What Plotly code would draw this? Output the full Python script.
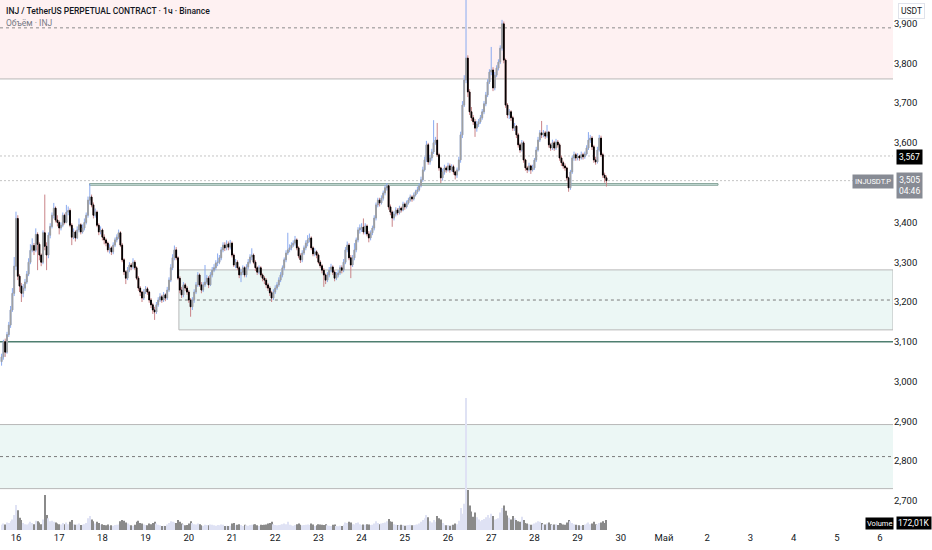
import pandas as pd
import plotly.graph_objects as go

# INJUSDT.P perpetual, 1h candles from 2025-04-15 16:00 to 2025-04-29 16:00
first_open = 3.050

closes = [
    3.062, 3.100, 3.074, 3.118, 3.142, 3.180, 3.222, 3.290, 3.410,
    3.265, 3.240, 3.222, 3.235, 3.250, 3.270, 3.300, 3.330, 3.342, 3.330, 3.370, 3.345, 3.318, 3.300, 3.374,
    3.340,
    3.318, 3.368, 3.390, 3.418, 3.436, 3.406, 3.400, 3.386, 3.393, 3.418, 3.400, 3.426, 3.430, 3.393, 3.363,
    3.376, 3.361, 3.381, 3.394, 3.376, 3.386, 3.400, 3.418,
    3.456, 3.464,
    3.444, 3.418, 3.426, 3.393, 3.376, 3.381, 3.363, 3.356, 3.348, 3.331, 3.336, 3.326, 3.343, 3.356, 3.363, 3.374,
    3.343, 3.306, 3.276, 3.260, 3.280, 3.293, 3.288, 3.300, 3.286, 3.260, 3.235, 3.225, 3.210, 3.225, 3.233, 3.225, 3.205, 3.193, 3.180, 3.175,
    3.193, 3.205, 3.213, 3.205, 3.218, 3.210, 3.230, 3.255, 3.286, 3.311, 3.331, 3.311, 3.260, 3.230, 3.218, 3.243, 3.235, 3.225, 3.205, 3.188,
    3.205, 3.225, 3.243, 3.268, 3.243, 3.230, 3.243, 3.250, 3.260, 3.243, 3.268, 3.280, 3.286, 3.298, 3.300, 3.311, 3.331, 3.343, 3.336, 3.346,
    3.338, 3.348, 3.318, 3.293, 3.300, 3.286, 3.268, 3.275, 3.286, 3.268, 3.288, 3.300, 3.313, 3.318, 3.300, 3.286, 3.275, 3.286, 3.268, 3.260,
    3.255, 3.243, 3.235, 3.223, 3.210, 3.225, 3.235, 3.243, 3.255, 3.268, 3.286, 3.306, 3.323, 3.331, 3.336, 3.343, 3.348, 3.356, 3.336, 3.316,
    3.306, 3.323, 3.336, 3.348, 3.356, 3.361, 3.336, 3.321, 3.326, 3.318, 3.300, 3.291, 3.280, 3.268, 3.255, 3.268, 3.280, 3.288, 3.275, 3.260,
    3.268, 3.273, 3.286, 3.280, 3.300, 3.331, 3.343, 3.311, 3.293, 3.311, 3.331, 3.356, 3.381, 3.386, 3.388, 3.376, 3.391, 3.371, 3.361, 3.374,
    3.386, 3.411, 3.444, 3.456, 3.449, 3.461, 3.474, 3.487, 3.492, 3.439, 3.426, 3.411, 3.421, 3.431, 3.424, 3.436, 3.431, 3.446, 3.439, 3.449,
    3.456, 3.464, 3.459, 3.469, 3.477, 3.482, 3.492, 3.507, 3.532, 3.557, 3.595, 3.552, 3.562, 3.577, 3.600, 3.607, 3.570, 3.537, 3.512, 3.527,
    3.537, 3.532, 3.542, 3.532, 3.540, 3.527, 3.519, 3.532, 3.557, 3.620, 3.695, 3.758, 3.813, 3.728, 3.678, 3.663, 3.653, 3.637, 3.647, 3.653,
    3.663, 3.678, 3.698, 3.720, 3.753, 3.778, 3.783, 3.738, 3.770, 3.788, 3.803, 3.838, 3.899, 3.808, 3.695, 3.670, 3.678, 3.663, 3.637, 3.642,
    3.620, 3.595, 3.582, 3.600, 3.557, 3.537, 3.532, 3.542, 3.532, 3.537, 3.557, 3.582, 3.607, 3.625, 3.620, 3.625, 3.617, 3.627, 3.595, 3.587,
    3.600, 3.587, 3.602, 3.595, 3.562, 3.550, 3.542, 3.537, 3.512, 3.487, 3.527, 3.562, 3.570, 3.562, 3.567, 3.562, 3.570, 3.565, 3.572, 3.587,
    3.607, 3.612, 3.590, 3.557, 3.552, 3.582, 3.612, 3.570, 3.519, 3.512, 3.505,
]

highs = [
    3.070, 3.105, 3.108, 3.125, 3.150, 3.190, 3.235, 3.313, 3.427,
    3.418, 3.270, 3.248, 3.245, 3.258, 3.278, 3.310, 3.345, 3.360, 3.348, 3.385, 3.375, 3.350, 3.322, 3.380,
    3.470,
    3.350, 3.375, 3.398, 3.425, 3.449, 3.440, 3.418, 3.405, 3.400, 3.425, 3.422, 3.444, 3.440, 3.435, 3.398,
    3.385, 3.380, 3.390, 3.410, 3.398, 3.395, 3.410, 3.425,
    3.465, 3.497,
    3.470, 3.450, 3.435, 3.430, 3.398, 3.390, 3.385, 3.370, 3.360, 3.352, 3.345, 3.340, 3.350, 3.362, 3.370, 3.382,
    3.378, 3.348, 3.310, 3.280, 3.288, 3.300, 3.298, 3.310, 3.305, 3.290, 3.265, 3.240, 3.228, 3.232, 3.240, 3.238, 3.228, 3.210, 3.198, 3.188,
    3.200, 3.212, 3.222, 3.218, 3.225, 3.222, 3.238, 3.262, 3.295, 3.320, 3.342, 3.338, 3.315, 3.265, 3.238, 3.250, 3.248, 3.240, 3.230, 3.210,
    3.212, 3.232, 3.250, 3.275, 3.272, 3.250, 3.250, 3.293, 3.268, 3.265, 3.275, 3.288, 3.295, 3.305, 3.322, 3.318, 3.338, 3.350, 3.350, 3.355,
    3.352, 3.356, 3.352, 3.322, 3.308, 3.305, 3.290, 3.282, 3.292, 3.290, 3.295, 3.308, 3.320, 3.335, 3.322, 3.305, 3.290, 3.292, 3.290, 3.272,
    3.265, 3.260, 3.248, 3.240, 3.228, 3.232, 3.242, 3.250, 3.262, 3.275, 3.292, 3.312, 3.330, 3.374, 3.345, 3.350, 3.355, 3.366, 3.360, 3.340,
    3.322, 3.330, 3.342, 3.355, 3.368, 3.372, 3.365, 3.340, 3.335, 3.330, 3.322, 3.305, 3.295, 3.285, 3.272, 3.275, 3.288, 3.296, 3.292, 3.280,
    3.275, 3.280, 3.292, 3.292, 3.308, 3.338, 3.352, 3.348, 3.318, 3.318, 3.348, 3.362, 3.388, 3.395, 3.398, 3.410, 3.398, 3.395, 3.378, 3.380,
    3.392, 3.418, 3.450, 3.462, 3.462, 3.468, 3.480, 3.494, 3.499, 3.495, 3.445, 3.430, 3.428, 3.438, 3.436, 3.442, 3.440, 3.452, 3.450, 3.455,
    3.462, 3.470, 3.468, 3.475, 3.482, 3.490, 3.498, 3.515, 3.540, 3.565, 3.605, 3.600, 3.570, 3.585, 3.657, 3.615, 3.650, 3.575, 3.540, 3.535,
    3.545, 3.542, 3.550, 3.548, 3.546, 3.545, 3.530, 3.538, 3.565, 3.628, 3.705, 3.770, 3.990, 3.820, 3.735, 3.690, 3.670, 3.660, 3.655, 3.660,
    3.670, 3.685, 3.705, 3.728, 3.760, 3.785, 3.841, 3.790, 3.778, 3.795, 3.810, 3.845, 3.909, 3.905, 3.812, 3.700, 3.685, 3.682, 3.668, 3.650,
    3.645, 3.625, 3.600, 3.607, 3.605, 3.560, 3.542, 3.550, 3.545, 3.545, 3.562, 3.590, 3.615, 3.632, 3.655, 3.632, 3.630, 3.645, 3.630, 3.600,
    3.608, 3.605, 3.610, 3.607, 3.600, 3.568, 3.555, 3.548, 3.540, 3.515, 3.532, 3.568, 3.578, 3.575, 3.574, 3.570, 3.578, 3.575, 3.578, 3.594,
    3.627, 3.620, 3.617, 3.595, 3.565, 3.590, 3.620, 3.618, 3.575, 3.525, 3.518,
]

lows = [
    3.040, 3.055, 3.062, 3.070, 3.112, 3.135, 3.175, 3.215, 3.280,
    3.255, 3.225, 3.200, 3.212, 3.228, 3.245, 3.265, 3.295, 3.325, 3.318, 3.325, 3.280, 3.305, 3.290, 3.295,
    3.330,
    3.280, 3.310, 3.360, 3.385, 3.410, 3.400, 3.390, 3.370, 3.380, 3.388, 3.395, 3.398, 3.418, 3.388, 3.343,
    3.358, 3.352, 3.358, 3.375, 3.370, 3.372, 3.380, 3.395,
    3.412, 3.445,
    3.438, 3.410, 3.412, 3.388, 3.368, 3.370, 3.355, 3.345, 3.340, 3.325, 3.322, 3.318, 3.320, 3.338, 3.350, 3.358,
    3.338, 3.300, 3.268, 3.245, 3.255, 3.275, 3.280, 3.282, 3.280, 3.255, 3.228, 3.215, 3.200, 3.205, 3.220, 3.218, 3.198, 3.185, 3.170, 3.155,
    3.170, 3.188, 3.200, 3.198, 3.200, 3.202, 3.205, 3.225, 3.250, 3.280, 3.305, 3.305, 3.255, 3.222, 3.210, 3.212, 3.228, 3.218, 3.198, 3.163,
    3.180, 3.198, 3.220, 3.238, 3.238, 3.222, 3.225, 3.238, 3.245, 3.235, 3.240, 3.262, 3.275, 3.280, 3.290, 3.295, 3.305, 3.325, 3.328, 3.330,
    3.330, 3.332, 3.312, 3.288, 3.285, 3.280, 3.260, 3.250, 3.268, 3.262, 3.262, 3.282, 3.295, 3.305, 3.295, 3.278, 3.268, 3.270, 3.262, 3.252,
    3.245, 3.235, 3.228, 3.215, 3.200, 3.205, 3.220, 3.230, 3.238, 3.250, 3.262, 3.280, 3.300, 3.318, 3.325, 3.330, 3.338, 3.342, 3.330, 3.310,
    3.298, 3.300, 3.318, 3.330, 3.340, 3.350, 3.330, 3.315, 3.315, 3.310, 3.295, 3.285, 3.272, 3.238, 3.245, 3.250, 3.262, 3.275, 3.268, 3.252,
    3.255, 3.262, 3.268, 3.272, 3.275, 3.295, 3.325, 3.305, 3.260, 3.288, 3.305, 3.325, 3.350, 3.372, 3.376, 3.370, 3.370, 3.365, 3.350, 3.355,
    3.368, 3.380, 3.405, 3.438, 3.440, 3.445, 3.455, 3.468, 3.480, 3.432, 3.418, 3.389, 3.405, 3.415, 3.418, 3.420, 3.425, 3.428, 3.432, 3.435,
    3.445, 3.452, 3.452, 3.455, 3.465, 3.472, 3.478, 3.488, 3.502, 3.528, 3.552, 3.545, 3.545, 3.555, 3.572, 3.595, 3.565, 3.530, 3.499, 3.505,
    3.520, 3.525, 3.528, 3.525, 3.528, 3.520, 3.508, 3.512, 3.528, 3.550, 3.612, 3.690, 3.750, 3.715, 3.670, 3.655, 3.645, 3.615, 3.628, 3.640,
    3.648, 3.658, 3.672, 3.692, 3.715, 3.748, 3.770, 3.730, 3.732, 3.765, 3.782, 3.798, 3.832, 3.800, 3.688, 3.662, 3.660, 3.655, 3.630, 3.630,
    3.612, 3.588, 3.575, 3.578, 3.550, 3.530, 3.524, 3.528, 3.522, 3.528, 3.532, 3.552, 3.578, 3.602, 3.612, 3.614, 3.610, 3.612, 3.588, 3.580,
    3.582, 3.580, 3.582, 3.588, 3.555, 3.542, 3.535, 3.530, 3.505, 3.477, 3.482, 3.522, 3.555, 3.555, 3.556, 3.555, 3.558, 3.558, 3.560, 3.568,
    3.582, 3.600, 3.582, 3.550, 3.545, 3.548, 3.578, 3.565, 3.512, 3.500, 3.490,
]

# volume in thousands of INJ
volumes = [
    90, 110, 95, 130, 120, 150, 180, 260, 430,
    340, 210, 170, 120, 100, 95, 110, 140, 120, 100, 160, 150, 130, 100, 180,
    600,
    260, 200, 150, 160, 140, 130, 110, 100, 95, 120, 100, 130, 100, 140, 170,
    100, 90, 95, 110, 85, 90, 100, 120,
    200, 240,
    180, 150, 110, 140, 120, 90, 100, 85, 80, 95, 70, 80, 75, 85, 90, 95,
    150, 170, 160, 130, 110, 90, 80, 75, 90, 140, 160, 120, 110, 95, 85, 80, 110, 100, 120, 140,
    110, 90, 80, 70, 75, 70, 95, 120, 150, 140, 130, 120, 170, 140, 110, 100, 80, 85, 110, 150,
    120, 100, 95, 110, 100, 80, 75, 90, 85, 80, 95, 90, 80, 75, 85, 80, 95, 90, 70, 75,
    70, 75, 110, 120, 80, 90, 100, 85, 70, 90, 80, 75, 85, 90, 95, 100, 80, 70, 90, 85,
    90, 95, 110, 120, 140, 100, 85, 80, 85, 90, 100, 110, 100, 140, 90, 80, 75, 85, 100, 110,
    90, 80, 85, 90, 95, 85, 110, 95, 70, 80, 100, 95, 90, 85, 100, 80, 75, 70, 90, 95,
    70, 65, 75, 70, 90, 130, 120, 140, 130, 100, 95, 120, 130, 100, 85, 95, 90, 100, 95, 85,
    90, 110, 150, 120, 100, 110, 120, 130, 150, 190, 150, 140, 100, 90, 85, 80, 90, 85, 75, 80,
    85, 90, 80, 85, 90, 95, 110, 140, 170, 200, 260, 220, 150, 130, 170, 140, 240, 200, 180, 120,
    90, 80, 85, 75, 80, 90, 110, 100, 160, 380, 280, 450, 2270, 690, 420, 320, 230, 300, 220, 180,
    150, 170, 190, 220, 260, 210, 280, 240, 180, 190, 200, 300, 380, 420, 330, 250, 210, 180, 240, 200,
    170, 150, 140, 230, 170, 120, 110, 100, 90, 95, 110, 130, 150, 140, 120, 100, 95, 110, 130, 100,
    90, 95, 100, 85, 120, 110, 95, 90, 130, 170, 150, 120, 100, 90, 85, 80, 75, 85, 95, 110,
    130, 100, 110, 140, 100, 95, 120, 130, 150, 120, 172.01,
]

day_ticks = pd.date_range("2025-04-16", "2025-05-06", freq="D")
day_labels = [str(d) for d in range(16, 31)] + ["Май", "2", "3", "4", "5", "6"]
price_ticks = [2.7, 2.8, 2.9, 3.0, 3.1, 3.2, 3.3, 3.4, 3.6, 3.7, 3.8, 3.9]

assert len(closes) == len(highs) == len(lows) == len(volumes)

times = pd.date_range("2025-04-15 16:00", periods=len(closes), freq="h")
opens = [first_open] + closes[:-1]
body_top = [max(o, c) for o, c in zip(opens, closes)]
body_bot = [min(o, c) for o, c in zip(opens, closes)]
vol_colors = ["#dfe2f4" if c >= o else "#8a8a8a" for o, c in zip(opens, closes)]

fig = go.Figure()

# volume overlay at the bottom
fig.add_trace(go.Bar(x=times, y=volumes, yaxis="y2", width=0.55 * 3600 * 1000,
                     marker=dict(color=vol_colors, line=dict(width=0)), hoverinfo="skip"))

# wicks: blue for up, red for down (drawn as candles, bodies get covered below)
fig.add_trace(go.Candlestick(x=times, open=opens, high=highs, low=lows, close=closes,
                             whiskerwidth=0,
                             increasing=dict(line=dict(color="#8aaaf0", width=1), fillcolor="#8aaaf0"),
                             decreasing=dict(line=dict(color="#c98488", width=1), fillcolor="#c98488")))

# bodies: grey up, black down
fig.add_trace(go.Candlestick(x=times, open=opens, high=body_top, low=body_bot, close=closes,
                             whiskerwidth=0,
                             increasing=dict(line=dict(color="#a0a0a0", width=1), fillcolor="#a0a0a0"),
                             decreasing=dict(line=dict(color="#000000", width=1), fillcolor="#000000")))

right_end = "2025-05-06 07:12"
zone_line = "#b8b8b8"
shapes = [
    # supply zone on top
    dict(type="rect", xref="paper", x0=0, x1=1, y0=3.7606, y1=4.2, fillcolor="rgba(242,54,69,0.07)", line_width=0, layer="below"),
    dict(type="line", xref="paper", x0=0, x1=1, y0=3.7606, y1=3.7606, line=dict(color=zone_line, width=1), layer="below"),
    dict(type="line", xref="paper", x0=0, x1=1, y0=3.889, y1=3.889, line=dict(color="#8c8c8c", width=1, dash="3px,3px"), layer="below"),
    # levels
    dict(type="line", xref="paper", x0=0, x1=1, y0=3.567, y1=3.567, line=dict(color="#c4c4c4", width=1, dash="2px,2px"), layer="below"),
    dict(type="line", xref="paper", x0=0, x1=0.961, y0=3.505, y1=3.505, line=dict(color="#c4c4c4", width=1, dash="2px,2px"), layer="below"),
    dict(type="rect", x0="2025-04-17 16:50", x1="2025-05-02 06:00", y0=3.4935, y1=3.4975,
         fillcolor="rgba(8,153,129,0.12)", line=dict(color="#7d9d92", width=1), layer="below"),
    # demand zone
    dict(type="rect", x0="2025-04-19 18:30", x1=right_end, y0=3.130, y1=3.2807,
         fillcolor="rgba(8,153,129,0.08)", line=dict(color=zone_line, width=1), layer="below"),
    dict(type="line", x0="2025-04-19 18:30", x1=right_end, y0=3.205, y1=3.205,
         line=dict(color="#7a7a7a", width=1, dash="3px,3px"), layer="below"),
    dict(type="line", xref="paper", x0=0, x1=1, y0=3.100, y1=3.100, line=dict(color="#4f7f70", width=1.5), layer="below"),
    # lower zone
    dict(type="rect", xref="paper", x0=0, x1=1, y0=2.731, y1=2.892, fillcolor="rgba(8,153,129,0.08)", line_width=0, layer="below"),
    dict(type="line", xref="paper", x0=0, x1=1, y0=2.892, y1=2.892, line=dict(color=zone_line, width=1), layer="below"),
    dict(type="line", xref="paper", x0=0, x1=1, y0=2.731, y1=2.731, line=dict(color=zone_line, width=1), layer="below"),
    dict(type="line", xref="paper", x0=0, x1=1, y0=2.8115, y1=2.8115, line=dict(color="#7a7a7a", width=1, dash="3px,3px"), layer="below"),
]

def px(x):
    return x / 893.0

def py(y):
    return 1 - y / 530.0

small = dict(family="Roboto, sans-serif", size=8.5)
annotations = [
    dict(xref="paper", yref="paper", x=px(4), y=py(11), xanchor="left", yanchor="middle", showarrow=False,
         text="INJ / TetherUS PERPETUAL CONTRACT · 1ч · Binance", font=dict(family="Roboto, sans-serif", size=8.5, color="#131722", weight=500)),
    dict(xref="paper", yref="paper", x=px(4), y=py(23), xanchor="left", yanchor="middle", showarrow=False,
         text="Объём · INJ", font=dict(family="Roboto, sans-serif", size=8.5, color="#787b86")),
    dict(xref="paper", yref="paper", x=px(912), y=py(11), xanchor="center", yanchor="middle", showarrow=False,
         text="USDT", font=dict(small, color="#131722"), bgcolor="white", bordercolor="#e0e3eb", borderwidth=1, borderpad=2),
    dict(xref="paper", yref="paper", x=px(896), y=py(157), xanchor="left", yanchor="middle", showarrow=False,
         text="3,567", font=dict(small, color="white"), bgcolor="#000000", borderpad=2),
    dict(xref="paper", yref="paper", x=px(894), y=py(181), xanchor="right", yanchor="middle", showarrow=False,
         text="INJUSDT.P", font=dict(family="Roboto, sans-serif", size=7.5, color="white"), bgcolor="#878b94", borderpad=2),
    dict(xref="paper", yref="paper", x=px(896), y=py(186), xanchor="left", yanchor="middle", showarrow=False,
         text="3,505<br>04:46", font=dict(small, color="white"), bgcolor="#878b94", borderpad=2),
    dict(xref="paper", yref="paper", x=px(894), y=py(523), xanchor="right", yanchor="middle", showarrow=False,
         text="Volume", font=dict(family="Roboto, sans-serif", size=7.5, color="white"), bgcolor="#000000", borderpad=1),
    dict(xref="paper", yref="paper", x=px(896), y=py(523), xanchor="left", yanchor="middle", showarrow=False,
         text="172,01K", font=dict(small, color="white"), bgcolor="#000000", borderpad=1),
]

fig.update_layout(
    width=932, height=550,
    margin=dict(l=0, r=39, t=0, b=20),
    plot_bgcolor="white", paper_bgcolor="white",
    showlegend=False, separators=", ", boxgap=0.4,
    font=dict(family="Roboto, sans-serif", size=9.5, color="#131722"),
    xaxis=dict(type="date", range=["2025-04-15 15:07", right_end], tickvals=day_ticks, ticktext=day_labels,
               showgrid=False, zeroline=False, ticks="", rangeslider=dict(visible=False), fixedrange=True),
    yaxis=dict(side="right", range=[2.627, 3.959], tickvals=price_ticks, tickformat=".3f",
               showgrid=False, zeroline=False, ticks="", fixedrange=True),
    yaxis2=dict(overlaying="y", range=[0, 9116], visible=False, fixedrange=True),
    shapes=shapes, annotations=annotations,
)

fig.write_html("out.html", config={"displayModeBar": False},
               post_script="document.body.style.margin='0px';")
